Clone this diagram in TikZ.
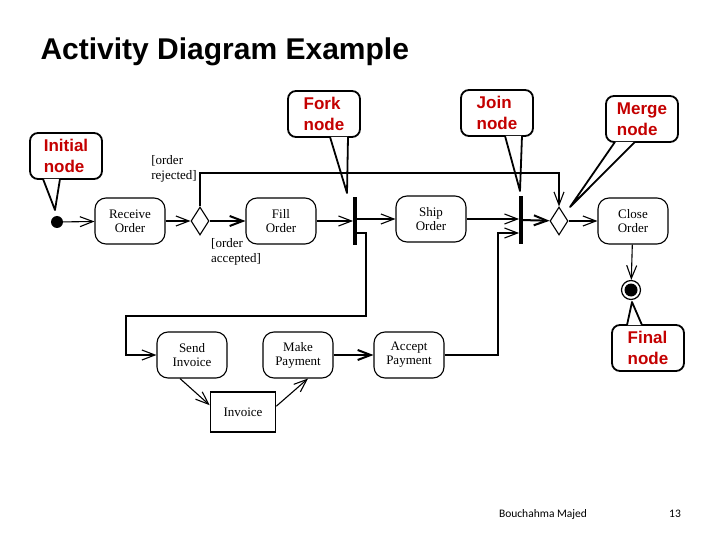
\documentclass[tikz,border=0pt]{standalone}
\usepackage{fontspec}
\setmainfont{Liberation Serif}
\newfontfamily\arialfont{Liberation Sans}
\newfontfamily\footfont{Carlito}
\usetikzlibrary{arrows.meta,positioning,shapes.geometric,calc}
\definecolor{calloutred}{HTML}{C40000}

\begin{document}
\begin{tikzpicture}[
  x=1pt,y=-1pt,
  every node/.style={font=\fontsize{13}{14}\selectfont},
  action/.style={draw,line width=1.1pt,rounded corners=11pt,minimum width=70pt,minimum height=46pt,align=center,inner sep=2pt},
  decision/.style={draw,diamond,line width=1.1pt,minimum width=18pt,minimum height=28pt,inner sep=0pt},
  bar/.style={fill=black,minimum width=3.5pt,minimum height=47pt,inner sep=0pt},
  initial/.style={circle,fill=black,minimum size=12pt,inner sep=0pt},
  final/.style={circle,draw,line width=1.2pt,minimum size=19pt,inner sep=0pt},
  note/.style={draw,line width=1.8pt,rounded corners=8pt,fill=white,minimum width=72pt,minimum height=46pt,align=left,text=calloutred,font=\arialfont\bfseries\fontsize{17}{21}\selectfont},
  tail/.style={draw,line width=1.8pt,fill=white,line join=round},
  arrow/.style={-{Straight Barb[length=13pt,width=10pt]},line width=1.1pt},
  thickarrow/.style={arrow,line width=2pt},
  guard/.style={align=left,inner sep=1pt,font=\fontsize{13}{15}\selectfont}
]
\useasboundingbox[fill=white] (0,0) rectangle (720,540);

% title and footer
\node[anchor=west,font=\arialfont\bfseries\fontsize{30}{35}\selectfont] (title) at (37,52) {Activity Diagram Example};
\node[font=\footfont\fontsize{11.5}{13}\selectfont] (author) at (543,514) {Bouchahma Majed};
\node[font=\footfont\fontsize{11.5}{13}\selectfont] (page) at (675,514) {13};

% activity nodes
\node[initial] (init) at (57,222) {};
\node[action] (recv) at (130,221) {Receive\\Order};
\node[decision] (dec) at (200,221) {};
\node[action] (fill) at (281,221) {Fill\\Order};
\node[bar] (fork) at (355,221) {};
\node[action] (ship) at (431,219) {Ship\\Order};
\node[bar] (join) at (521,220) {};
\node[decision] (merge) at (559,221) {};
\node[action] (close) at (633,221) {Close\\Order};
\node[final] (final) at (631,290) {};
\fill (final) circle (6.5pt);
\node[action] (send) at (192,355) {Send\\Invoice};
\node[action] (make) at (298,355) {Make\\Payment};
\node[action] (accept) at (409,355) {Accept\\Payment};
\node[draw,line width=1.6pt,minimum width=65pt,minimum height=40pt] (invoice) at (243,412) {Invoice};

% guards
\node[guard,anchor=north west] (acc) at (210,237) {[order\\accepted]};
\node[guard,anchor=south east] (rej) at (198,183) {[order\\rejected]};

% callouts
\node[note] (initnote) at (66,156) {Initial\\node};
\coordinate (initptr) at (55,210);
\path[tail] ($(initnote.south)+(-23,-1)$) -- (initptr) -- ($(initnote.south)+(-6,-1)$);
\node[note] (forknote) at (324,114) {Fork\\node};
\coordinate (forkptr) at (347,193);
\path[tail] ($(forknote.south)+(6,-1)$) -- (forkptr) -- ($(forknote.south)+(24,-1)$);
\node[note] (joinnote) at (497,113) {Join\\node};
\coordinate (joinptr) at (520,191);
\path[tail] ($(joinnote.south)+(8,-1)$) -- (joinptr) -- ($(joinnote.south)+(25,-1)$);
\node[note] (mergenote) at (642,119) {Merge\\node};
\coordinate (mergeptr) at (570,207);
\path[tail] ($(mergenote.south)+(-27,-1)$) -- (mergeptr) -- ($(mergenote.south)+(-7,-1)$);
\node[note] (finalnote) at (648,348) {Final\\node};
\coordinate (finalptr) at (632,302);
\path[tail] ($(finalnote.north)+(-21,1)$) -- (finalptr) -- ($(finalnote.north)+(-6,1)$);

% flows
\draw[arrow] (init) -- (recv);
\draw[arrow] (recv) -- (dec);
\draw[thickarrow] (dec) -- (fill);
\coordinate (rejtop) at (559,173);
\draw[arrow] (dec.north) |- (rejtop) -- (merge.north);
\draw[arrow] (fill) -- (fork);
\draw[arrow] (fork.east |- ship.west) -- (ship);
\coordinate (forkout) at ($(fork.east)+(0,12)$);
\coordinate (downa) at (366,316);
\coordinate (downb) at (126,316);
\draw[arrow] (forkout) -| (downa) -- (downb) |- (send.west);
\draw[arrow] (ship) -- (ship -| join.west);
\draw[arrow] ($(send.south)+(-12,0)$) -- ($(invoice.north west)+(0,14)$);
\draw[arrow] ($(invoice.north east)+(0,15)$) -- ($(make.south)+(10,0)$);
\draw[thickarrow] (make) -- (accept);
\coordinate (upa) at (498,233);
\draw[arrow] (accept.east) -| (upa) -- (upa -| join.west);
\draw[thickarrow] (join) -- (merge);
\draw[arrow] (merge) -- (close);
\draw[arrow] (close) -- (final);
\end{tikzpicture}
\end{document}
